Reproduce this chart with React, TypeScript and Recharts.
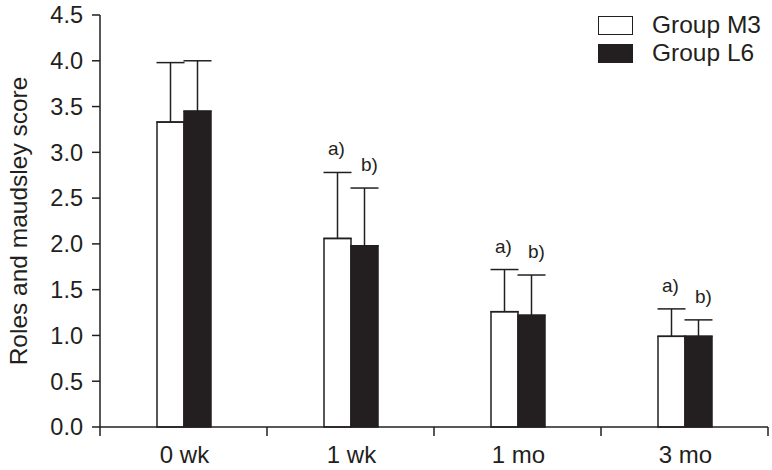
import { BarChart, Bar, XAxis, YAxis, ErrorBar, LabelList, Legend } from 'recharts';

document.body.style.margin = '0';

const categories = ['0 wk', '1 wk', '1 mo', '3 mo'];
const m3Values = [3.33, 2.06, 1.26, 0.99];
const m3Errors = [0.65, 0.72, 0.46, 0.3];
const l6Values = [3.45, 1.98, 1.22, 0.99];
const l6Errors = [0.55, 0.63, 0.44, 0.18];
const m3Marks = ['', 'a)', 'a)', 'a)'];
const l6Marks = ['', 'b)', 'b)', 'b)'];
const yTicks = [0, 0.5, 1, 1.5, 2, 2.5, 3, 3.5, 4, 4.5];

const data = categories.map((name, i) => ({
  name,
  m3: m3Values[i],
  m3Err: [0, m3Errors[i]],
  l6: l6Values[i],
  l6Err: [0, l6Errors[i]],
}));

const FONT = '"Liberation Sans", Arial, sans-serif';
const INK = '#231f20';

// category ticks sit at the band edges, labels at the centre
const XTick = (props: any) => {
  const { x, y, payload, index } = props;
  const half = payload.offset ?? 83.5;
  return (
    <g>
      {index === 0 && <line x1={x - half} y1={y} x2={x - half} y2={y + 9} stroke={INK} strokeWidth={1.5} />}
      <line x1={x + half} y1={y} x2={x + half} y2={y + 9} stroke={INK} strokeWidth={1.5} />
      <text x={x + 1} y={y + 36} textAnchor="middle" fontSize={24} fill={INK} fontFamily={FONT}>
        {payload.value}
      </text>
    </g>
  );
};

// letter above the error bar cap
const makeMark = (marks: string[], errors: number[], dx: number, lift: number) => (props: any) => {
  const { x, y, width, height, value, index } = props;
  if (!marks[index]) return null;
  const perUnit = height / value;
  const capY = y - errors[index] * perUnit;
  return (
    <text x={x + width / 2 + dx} y={capY - lift} textAnchor="middle" fontSize={19} fill={INK} fontFamily={FONT}>
      {marks[index]}
    </text>
  );
};

const YLabel = (props: any) => {
  const { viewBox } = props;
  const cx = viewBox.x + 27;
  const cy = viewBox.y + viewBox.height / 2;
  return (
    <text x={cx} y={cy} transform={`rotate(-90, ${cx}, ${cy})`} textAnchor="middle" fontSize={24.5} fill={INK} fontFamily={FONT}>
      Roles and maudsley score
    </text>
  );
};

const LegendBox = () => (
  <div style={{ fontFamily: FONT, fontSize: 24.5, color: INK, lineHeight: 1 }}>
    {[
      { label: 'Group M3', fill: '#fff' },
      { label: 'Group L6', fill: INK },
    ].map((it) => (
      <div key={it.label} style={{ display: 'flex', alignItems: 'center', height: 28 }}>
        <div style={{ width: 33, height: 17, background: it.fill, border: `1.5px solid ${INK}`, marginRight: 19 }} />
        <span>{it.label}</span>
      </div>
    ))}
  </div>
);

export default function App() {
  return (
    <div style={{ width: 772, height: 470, background: '#fff' }}>
      <BarChart width={772} height={470} data={data} margin={{ top: 15, right: 4, left: 0, bottom: 0 }} barGap={0} barSize={27}>
        <XAxis
          dataKey="name"
          height={43}
          tickSize={0}
          tickMargin={0}
          tickLine={false}
          axisLine={{ stroke: INK, strokeWidth: 1.5 }}
          tick={<XTick />}
          interval={0}
        />
        <YAxis
          width={100}
          domain={[0, 4.5]}
          ticks={yTicks}
          tickFormatter={(v: number) => v.toFixed(1)}
          tickSize={8}
          tickMargin={9}
          tick={{ fontSize: 23.5, fill: INK, fontFamily: FONT }}
          tickLine={{ stroke: INK, strokeWidth: 1.5 }}
          axisLine={{ stroke: INK, strokeWidth: 1.5 }}
          label={<YLabel />}
        />
        <Legend
          layout="horizontal"
          verticalAlign="middle"
          align="center"
          wrapperStyle={{ position: 'absolute', top: 11, left: 598, width: 174 }}
          content={<LegendBox />}
        />
        <Bar dataKey="m3" fill="#fff" stroke={INK} strokeWidth={1.5} isAnimationActive={false}>
          <ErrorBar dataKey="m3Err" direction="y" width={14} stroke={INK} strokeWidth={1.5} />
          <LabelList dataKey="m3" content={makeMark(m3Marks, m3Errors, -1, 17)} />
        </Bar>
        <Bar dataKey="l6" fill={INK} stroke={INK} strokeWidth={1.5} isAnimationActive={false}>
          <ErrorBar dataKey="l6Err" direction="y" width={14} stroke={INK} strokeWidth={1.5} />
          <LabelList dataKey="l6" content={makeMark(l6Marks, l6Errors, 5, 17)} />
        </Bar>
      </BarChart>
    </div>
  );
}
